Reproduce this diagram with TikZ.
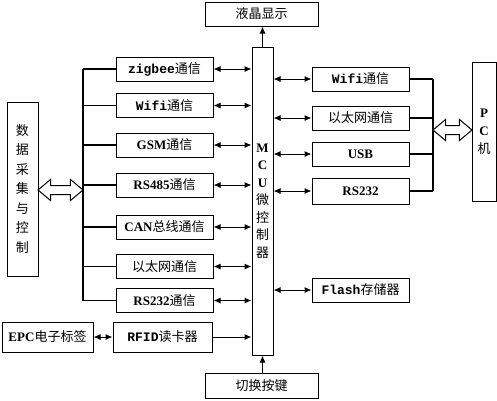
\documentclass[tikz,border=0pt]{standalone}
\usepackage{fontspec}
\setmainfont{Liberation Serif}
\setmonofont{Liberation Mono}
\newfontfamily\cjkfam{Noto Sans CJK SC}
\newcommand{\cjk}{\cjkfam\mdseries}
\usetikzlibrary{positioning,arrows.meta,shapes.arrows}

\tikzset{
  blk/.style={draw, line width=1pt, inner sep=0pt, minimum height=24, font=\fontsize{13}{15}\selectfont\bfseries},
  lbox/.style={blk, minimum width=97},
  link/.style={line width=1pt, {Latex[length=7pt,width=6pt]}-{Latex[length=7pt,width=6pt]}},
  feed/.style={line width=1pt, -{Latex[length=7pt,width=6pt]}},
  busline/.style={line width=1.2pt},
  fatarrow/.style={draw, line width=1pt, double arrow, inner xsep=0pt, inner ysep=4pt,
    double arrow head extend=6pt, double arrow tip angle=80}
}

\begin{document}
\begin{tikzpicture}[x=1pt, y=-1pt]
  \useasboundingbox (0,0) rectangle (497,400);

  % MCU and its top / bottom parts
  \node[blk, minimum width=21, minimum height=308, align=center,
        font=\fontsize{13}{17.5}\selectfont\bfseries] (mcu) at (262.5,201)
        {M\\C\\U\\{\cjk 微}\\{\cjk 控}\\{\cjk 制}\\{\cjk 器}};
  \node[blk, minimum width=113] (lcd) at (261.5,14) {\cjk 液晶显示};
  \node[blk, minimum width=113, minimum height=25] (key) at (261.5,385.5) {\cjk 切换按键};
  \draw[feed] (mcu.north) -- (mcu.north |- lcd.south);
  \draw[feed] (key.north -| mcu.south) -- (mcu.south);

  % left side: communication modules
  \node[lbox] (zig) at (164.5,69)    {\ttfamily zigbee{\cjk 通信}};
  \node[lbox] (lwifi) at (164.5,105.5) {\ttfamily Wifi{\cjk 通信}};
  \node[lbox] (gsm) at (164.5,145)   {GSM{\cjk 通信}};
  \node[lbox] (rs485) at (164.5,185) {RS485{\cjk 通信}};
  \node[lbox] (can) at (164.5,227)   {CAN{\cjk 总线通信}};
  \node[lbox] (leth) at (164.5,266.5) {\cjk 以太网通信};
  \node[lbox] (lrs232) at (164.5,300.5) {RS232{\cjk 通信}};
  \node[blk, minimum width=99, minimum height=30] (rfid) at (162.5,337) {\ttfamily RFID{\cjk 读卡器}};
  \node[blk, minimum width=91, minimum height=30] (epc) at (47.5,337) {EPC{\cjk 电子标签}};
  \node[blk, minimum width=31, minimum height=174, align=center,
        font=\fontsize{13}{19.5}\selectfont\cjk] (data) at (22.5,189)
        {数\\据\\采\\集\\与\\控\\制};

  \foreach \m in {zig,lwifi,gsm,rs485,can,leth,lrs232}
    \draw[link] (\m.east) -- (\m.east -| mcu.west);
  \draw[feed] (rfid.east) -- (rfid.east -| mcu.west);
  \draw[link] (epc.east) -- (rfid.west);

  % left bus
  \coordinate (lbus) at (83,0);
  \draw[busline] (zig.west -| lbus) -- (lrs232.west -| lbus);
  \foreach \m in {zig,lwifi,gsm,rs485,can,leth,lrs232}
    \draw[busline] (\m.west -| lbus) -- (\m.west);
  \node[fatarrow, minimum height=45] (ldbl) at (60.5,190) {};

  % right side
  \node[lbox] (rwifi) at (360.5,79)  {\ttfamily Wifi{\cjk 通信}};
  \node[lbox] (reth) at (360.5,118)  {\cjk 以太网通信};
  \node[lbox] (usb) at (360.5,154)   {USB};
  \node[lbox, minimum height=26] (rrs232) at (360.5,191) {RS232};
  \node[lbox] (flash) at (360.5,290) {\ttfamily Flash{\cjk 存储器}};
  \node[blk, minimum width=24, minimum height=139, align=center,
        font=\fontsize{13}{18}\selectfont\bfseries] (pc) at (484,131.5)
        {P\\C\\{\cjk 机}};

  \foreach \m in {rwifi,reth,usb,rrs232,flash}
    \draw[link] (\m.west -| mcu.east) -- (\m.west);

  % right bus
  \coordinate (rbus) at (433,0);
  \draw[busline] (rwifi.east -| rbus) -- (rrs232.east -| rbus);
  \foreach \m in {rwifi,reth,usb,rrs232}
    \draw[busline] (\m.east) -- (\m.east -| rbus);
  \node[fatarrow, minimum height=39] (rdbl) at (452.5,130) {};
\end{tikzpicture}
\end{document}
